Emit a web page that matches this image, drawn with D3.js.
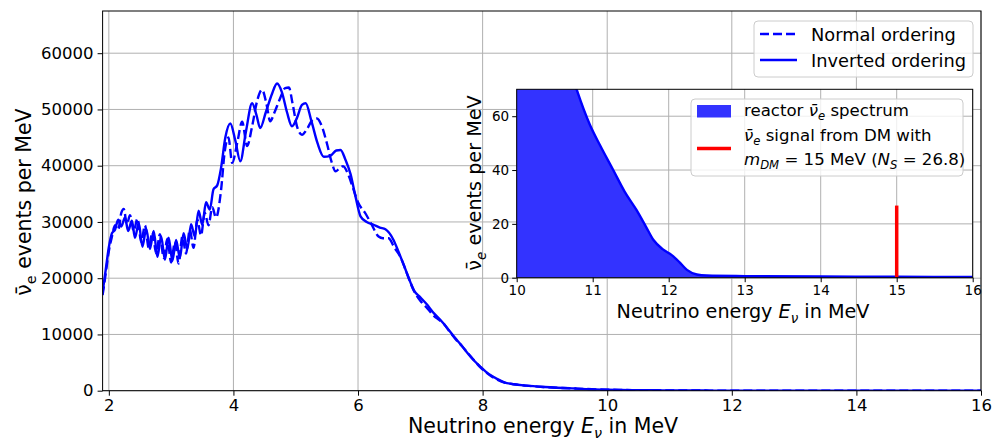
<!DOCTYPE html>
<html>
<head>
<meta charset="utf-8">
<script src="https://cdn.jsdelivr.net/npm/d3@7"></script>
<style>
  body { margin: 0; background: #fff; }
  svg { font-family: "DejaVu Sans", sans-serif; }
</style>
</head>
<body>
<div id="chart"></div>
<script>
// inverted ordering (solid line)
var energyIO = [1.90, 1.95, 2.00, 2.05, 2.10, 2.15, 2.20, 2.26, 2.31, 2.37, 2.42, 2.48, 2.54, 2.60, 2.66, 2.72,
  2.78, 2.84, 2.90, 2.96, 3.02, 3.08, 3.14, 3.20, 3.26, 3.32, 3.38, 3.44, 3.50, 3.56, 3.62, 3.68, 3.74, 3.80,
  3.87, 3.95, 4.03, 4.11, 4.20, 4.30, 4.37, 4.43, 4.52, 4.62, 4.70, 4.78, 4.86, 4.94, 5.02, 5.10, 5.16, 5.25,
  5.35, 5.45, 5.55, 5.65, 5.72, 5.80, 5.88, 5.96, 6.04, 6.14, 6.25, 6.35, 6.44, 6.57, 6.65, 6.75, 6.84, 6.90,
  7.00, 7.10, 7.20, 7.32, 7.45, 7.55, 7.65, 7.75, 7.85, 7.96, 8.05, 8.15, 8.23, 8.35];
var eventsIO = [17500, 21500, 25500, 28000, 28600, 30400, 29200, 30800, 28400, 30200, 27200, 29800, 25600, 28800, 25200, 28400,
  23800, 27400, 23300, 27200, 23100, 26800, 23600, 28000, 25200, 29600, 27400, 32000, 29500, 33500, 32200, 35800, 36500, 39500,
  45000, 47500, 44500, 40800, 46000, 51100, 49000, 46700, 49500, 52800, 54600, 53000, 49500, 47000, 48500, 50800, 51100, 48000,
  44000, 41600, 41700, 42700, 42800, 41000, 38500, 34500, 31000, 30000, 29500, 29000, 28700, 26800, 24700, 21900, 19300, 17800,
  16600, 15400, 14000, 12600, 10900, 9500, 8200, 6800, 5500, 4300, 3400, 2600, 2100, 1500];

// normal ordering (dashed line)
var energyNO = [1.90, 1.95, 2.00, 2.05, 2.10, 2.15, 2.20, 2.24, 2.29, 2.34, 2.40, 2.46, 2.52, 2.58, 2.64, 2.70,
  2.76, 2.82, 2.88, 2.94, 3.00, 3.06, 3.12, 3.18, 3.24, 3.30, 3.36, 3.42, 3.48, 3.54, 3.60, 3.66, 3.72, 3.80,
  3.86, 3.92, 3.98, 4.06, 4.14, 4.22, 4.30, 4.38, 4.46, 4.53, 4.59, 4.66, 4.75, 4.83, 4.89, 4.95, 5.02, 5.10,
  5.18, 5.26, 5.34, 5.42, 5.50, 5.58, 5.64, 5.70, 5.76, 5.84, 5.92, 6.00, 6.12, 6.22, 6.33, 6.40, 6.49, 6.58,
  6.68, 6.78, 6.89, 7.00, 7.10, 7.21, 7.30, 7.37, 7.47, 7.57, 7.67, 7.77, 7.87, 7.96, 8.05, 8.15, 8.23, 8.35];
var eventsNO = [17000, 20800, 24800, 27400, 29400, 28600, 31600, 32300, 29600, 31200, 28400, 30600, 26400, 29400, 25400, 28200,
  24400, 27800, 23600, 27000, 22800, 26400, 22600, 27400, 24400, 28600, 25400, 30400, 27600, 31600, 29400, 32600, 30800, 35500,
  42500, 45000, 40500, 44000, 47800, 43500, 47000, 51500, 53500, 51000, 47900, 49500, 52000, 53800, 53900, 51000, 47000, 45500,
  46500, 48000, 48400, 47000, 44000, 40500, 39000, 39500, 39900, 38500, 36000, 33500, 31500, 29500, 27400, 27100, 27100, 25500,
  23800, 21000, 17900, 16000, 14800, 13400, 12600, 12000, 10500, 9100, 7900, 6600, 5300, 4200, 3300, 2500, 2000, 1450];

// high energy tail, same for both orderings (also the inset spectrum)
var tailEnergy = [8.5, 8.7, 9.0, 9.5, 10.0, 10.2, 10.4, 10.6, 10.8, 10.96, 11.1, 11.27, 11.42, 11.58, 11.7, 11.8,
  11.92, 12.04, 12.14, 12.24, 12.37, 12.5, 13, 14, 15, 16];
var tailEvents = [1150, 900, 650, 380, 180, 140, 110, 88, 69, 57, 49, 40, 32, 25, 19, 14,
  10.6, 8.4, 5.8, 2.9, 1.2, 0.8, 0.6, 0.45, 0.35, 0.3];

var xTicks = [2, 4, 6, 8, 10, 12, 14, 16];
var yTicks = [0, 10000, 20000, 30000, 40000, 50000, 60000];
var insetXTicks = [10, 11, 12, 13, 14, 15, 16];
var insetYTicks = [0, 20, 40, 60];

var signalEnergy = 15;
var signalEvents = 26.8;

var W = 993, H = 442;
var blue = "#0000ff";
var gridColor = "#b0b0b0";

var svg = d3.select("#chart").append("svg").attr("width", W).attr("height", H);

function zip(a, b) {
  return a.map(function (d, i) { return [d, b[i]]; });
}

// text with italic / subscript pieces, mimics matplotlib mathtext
function rich(t, parts, fs) {
  var shift = 0;
  parts.forEach(function (p) {
    var s = p.sub ? fs * 0.25 : 0;
    t.append("tspan")
      .attr("dy", s - shift)
      .attr("font-size", p.sub ? fs * 0.7 : fs)
      .attr("font-style", p.it ? "italic" : "normal")
      .text(p.t);
    shift = s;
  });
  return t;
}

var nuBar = "\u03bd\u0304";

// ---------- main axes ----------
var x = d3.scaleLinear().domain([1.9, 16]).range([102.6, 981]);
var y = d3.scaleLinear().domain([0, 67500]).range([390.7, 11]);

var main = svg.append("g");

main.append("g").selectAll("line").data(xTicks).enter().append("line")
  .attr("x1", function (d) { return x(d); }).attr("x2", function (d) { return x(d); })
  .attr("y1", y.range()[0]).attr("y2", y.range()[1])
  .attr("stroke", gridColor).attr("stroke-width", 1);
main.append("g").selectAll("line").data(yTicks).enter().append("line")
  .attr("y1", function (d) { return y(d); }).attr("y2", function (d) { return y(d); })
  .attr("x1", x.range()[0]).attr("x2", x.range()[1])
  .attr("stroke", gridColor).attr("stroke-width", 1);

svg.append("defs").append("clipPath").attr("id", "mainClip")
  .append("rect")
  .attr("x", x.range()[0]).attr("y", y.range()[1])
  .attr("width", x.range()[1] - x.range()[0]).attr("height", y.range()[0] - y.range()[1]);

var line = d3.line()
  .x(function (d) { return x(d[0]); })
  .y(function (d) { return y(d[1]); })
  .curve(d3.curveMonotoneX);

var tail = zip(tailEnergy, tailEvents);

main.append("path")
  .datum(zip(energyNO, eventsNO).concat(tail))
  .attr("clip-path", "url(#mainClip)")
  .attr("fill", "none").attr("stroke", blue).attr("stroke-width", 2.4)
  .attr("stroke-dasharray", "9,4")
  .attr("d", line);

main.append("path")
  .datum(zip(energyIO, eventsIO).concat(tail))
  .attr("clip-path", "url(#mainClip)")
  .attr("fill", "none").attr("stroke", blue).attr("stroke-width", 2.4)
  .attr("d", line);

var xAxis = main.append("g")
  .attr("transform", "translate(0," + y.range()[0] + ")")
  .call(d3.axisBottom(x).tickValues(xTicks).tickSize(5).tickPadding(4).tickFormat(d3.format("d")));
var yAxis = main.append("g")
  .attr("transform", "translate(" + x.range()[0] + ",0)")
  .call(d3.axisLeft(y).tickValues(yTicks).tickSize(5).tickPadding(4).tickFormat(d3.format("d")));
[xAxis, yAxis].forEach(function (a) {
  a.select(".domain").remove();
  a.selectAll("text").attr("font-size", 16.5).attr("fill", "#000")
    .attr("font-family", "DejaVu Sans");
  a.selectAll("line").attr("stroke", "#000");
});

main.append("rect")
  .attr("x", x.range()[0]).attr("y", y.range()[1])
  .attr("width", x.range()[1] - x.range()[0]).attr("height", y.range()[0] - y.range()[1])
  .attr("fill", "none").attr("stroke", "#000").attr("stroke-width", 1);

rich(main.append("text").attr("x", 543).attr("y", 433).attr("text-anchor", "middle"),
  [{ t: "Neutrino energy " }, { t: "E", it: true }, { t: "\u03bd", it: true, sub: true }, { t: " in MeV" }], 20.5);

rich(main.append("text").attr("transform", "translate(31,202) rotate(-90)").attr("text-anchor", "middle"),
  [{ t: nuBar }, { t: "e", sub: true }, { t: " events per MeV" }], 20.5);

// legend
var leg = main.append("g");
leg.append("rect").attr("x", 754).attr("y", 21).attr("width", 219).attr("height", 56).attr("rx", 4)
  .attr("fill", "#fff").attr("fill-opacity", 0.8).attr("stroke", "#cccccc");
var legItems = [{ label: "Normal ordering", dash: "9,4", ly: 34 }, { label: "Inverted ordering", dash: null, ly: 60 }];
legItems.forEach(function (d) {
  leg.append("line").attr("x1", 760).attr("x2", 797).attr("y1", d.ly).attr("y2", d.ly)
    .attr("stroke", blue).attr("stroke-width", 2.4).attr("stroke-dasharray", d.dash);
  leg.append("text").attr("x", 811).attr("y", d.ly + 6.5).attr("font-size", 17.8).text(d.label);
});

// ---------- inset ----------
var ix = d3.scaleLinear().domain([10, 16]).range([516.7, 972.7]);
var iy = d3.scaleLinear().domain([0, 70]).range([277.7, 89.3]);

var inset = svg.append("g");
inset.append("rect")
  .attr("x", ix.range()[0]).attr("y", iy.range()[1])
  .attr("width", ix.range()[1] - ix.range()[0]).attr("height", iy.range()[0] - iy.range()[1])
  .attr("fill", "#fff");

inset.append("g").selectAll("line").data(insetXTicks).enter().append("line")
  .attr("x1", function (d) { return ix(d); }).attr("x2", function (d) { return ix(d); })
  .attr("y1", iy.range()[0]).attr("y2", iy.range()[1])
  .attr("stroke", gridColor).attr("stroke-width", 1);
inset.append("g").selectAll("line").data(insetYTicks).enter().append("line")
  .attr("y1", function (d) { return iy(d); }).attr("y2", function (d) { return iy(d); })
  .attr("x1", ix.range()[0]).attr("x2", ix.range()[1])
  .attr("stroke", gridColor).attr("stroke-width", 1);

svg.select("defs").append("clipPath").attr("id", "insetClip")
  .append("rect")
  .attr("x", ix.range()[0]).attr("y", iy.range()[1])
  .attr("width", ix.range()[1] - ix.range()[0]).attr("height", iy.range()[0] - iy.range()[1]);

var insetData = tail.filter(function (d) { return d[0] >= 9.5; });

inset.append("path")
  .datum(insetData)
  .attr("clip-path", "url(#insetClip)")
  .attr("fill", "#3333ff")
  .attr("d", d3.area()
    .x(function (d) { return ix(d[0]); })
    .y0(iy(0))
    .y1(function (d) { return iy(d[1]); })
    .curve(d3.curveMonotoneX));

inset.append("path")
  .datum(insetData)
  .attr("clip-path", "url(#insetClip)")
  .attr("fill", "none").attr("stroke", blue).attr("stroke-width", 2.4)
  .attr("d", d3.line()
    .x(function (d) { return ix(d[0]); })
    .y(function (d) { return iy(d[1]); })
    .curve(d3.curveMonotoneX));

inset.append("line")
  .attr("x1", ix(signalEnergy)).attr("x2", ix(signalEnergy))
  .attr("y1", iy(0)).attr("y2", iy(signalEvents))
  .attr("stroke", "red").attr("stroke-width", 3.5);

var ixAxis = inset.append("g")
  .attr("transform", "translate(0," + iy.range()[0] + ")")
  .call(d3.axisBottom(ix).tickValues(insetXTicks).tickSize(4.5).tickPadding(3).tickFormat(d3.format("d")));
var iyAxis = inset.append("g")
  .attr("transform", "translate(" + ix.range()[0] + ",0)")
  .call(d3.axisLeft(iy).tickValues(insetYTicks).tickSize(4.5).tickPadding(3).tickFormat(d3.format("d")));
[ixAxis, iyAxis].forEach(function (a) {
  a.select(".domain").remove();
  a.selectAll("text").attr("font-size", 13.5).attr("fill", "#000")
    .attr("font-family", "DejaVu Sans");
  a.selectAll("line").attr("stroke", "#000");
});

inset.append("rect")
  .attr("x", ix.range()[0]).attr("y", iy.range()[1])
  .attr("width", ix.range()[1] - ix.range()[0]).attr("height", iy.range()[0] - iy.range()[1])
  .attr("fill", "none").attr("stroke", "#000").attr("stroke-width", 1);

rich(inset.append("text").attr("x", 743).attr("y", 318).attr("text-anchor", "middle"),
  [{ t: "Neutrino energy " }, { t: "E", it: true }, { t: "\u03bd", it: true, sub: true }, { t: " in MeV" }], 19.2);

rich(inset.append("text").attr("transform", "translate(481,183) rotate(-90)").attr("text-anchor", "middle"),
  [{ t: nuBar }, { t: "e", it: true, sub: true }, { t: " events per MeV" }], 19.2);

// inset legend
var ileg = inset.append("g");
ileg.append("rect").attr("x", 691).attr("y", 99).attr("width", 272).attr("height", 77).attr("rx", 4)
  .attr("fill", "#fff").attr("fill-opacity", 0.8).attr("stroke", "#cccccc");
ileg.append("rect").attr("x", 697).attr("y", 105).attr("width", 34).attr("height", 12.5).attr("fill", "#3333ff");
rich(ileg.append("text").attr("x", 744).attr("y", 116),
  [{ t: "reactor " }, { t: nuBar, it: true }, { t: "e", it: true, sub: true }, { t: " spectrum" }], 16.6);
ileg.append("line").attr("x1", 697).attr("x2", 731).attr("y1", 148.5).attr("y2", 148.5)
  .attr("stroke", "red").attr("stroke-width", 3.5);
rich(ileg.append("text").attr("x", 744).attr("y", 141),
  [{ t: nuBar, it: true }, { t: "e", it: true, sub: true }, { t: " signal from DM with" }], 16.6);
rich(ileg.append("text").attr("x", 744).attr("y", 165),
  [{ t: "m", it: true }, { t: "DM", it: true, sub: true }, { t: " = 15 MeV (" },
   { t: "N", it: true }, { t: "S", it: true, sub: true }, { t: " = 26.8)" }], 16.6);
</script>
</body>
</html>
